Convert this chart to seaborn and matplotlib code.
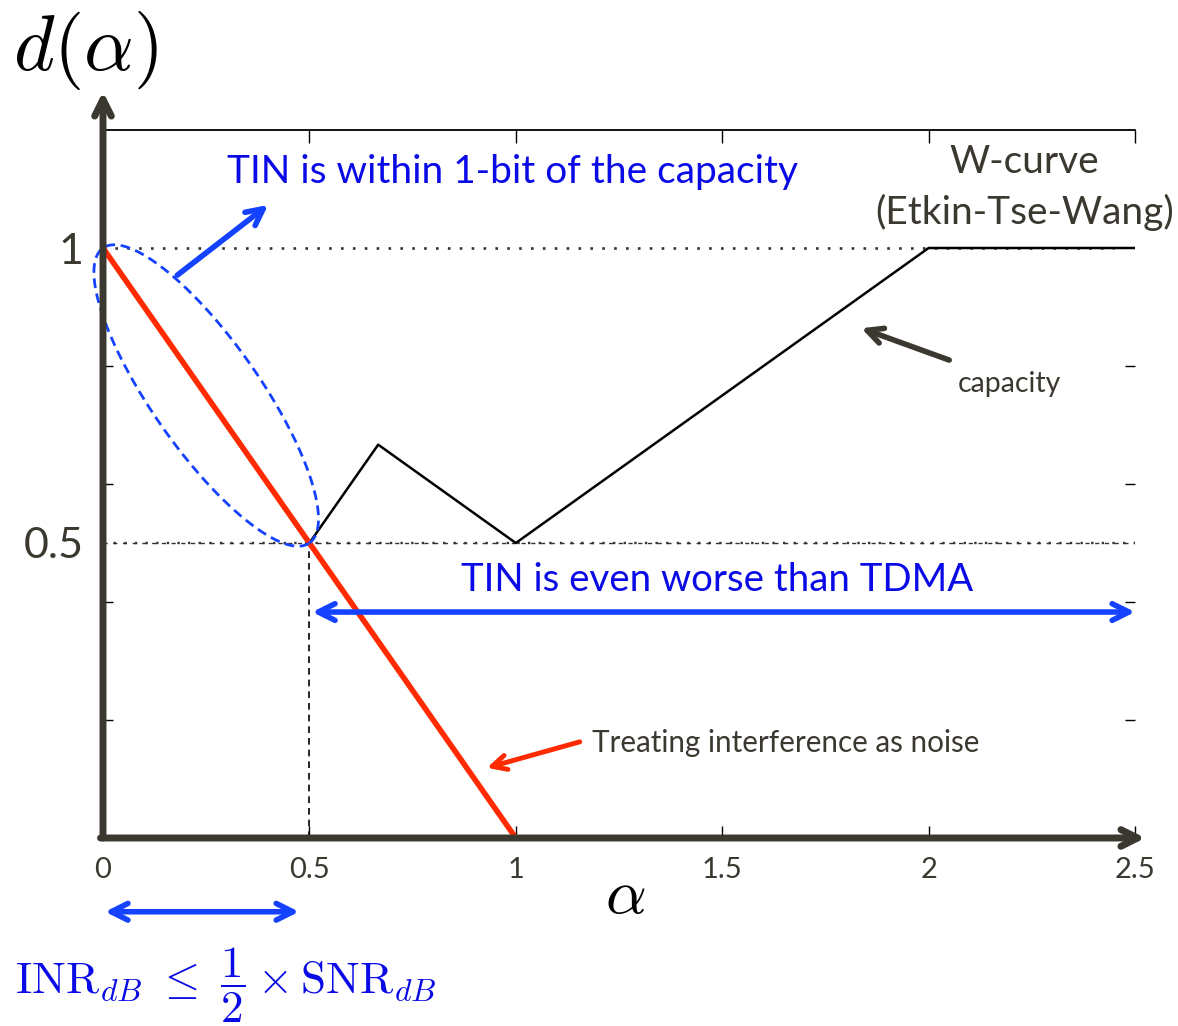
import numpy as np
import matplotlib
matplotlib.use('Agg')
import matplotlib.pyplot as plt
import seaborn as sns

# W-curve (Etkin-Tse-Wang) and treating-interference-as-noise curves
alpha_capacity = [0, 0.5, 2 / 3, 1, 2, 2.5]
d_capacity = [1, 0.5, 2 / 3, 0.5, 1, 1]
alpha_tin = [0, 1]
d_tin = [1, 0]

# reference levels and tick labels
ref_levels = [1, 0.5]
x_ticks = [0, 0.5, 1, 1.5, 2, 2.5]
x_tick_labels = ['0', '0.5', '1', '1.5', '2', '2.5']
y_major = [0.5, 1]
y_major_labels = ['0.5', '1']
y_minor = [0.2, 0.4, 0.6, 0.8]
tin_limit = 0.5

sns.set_style('white')
plt.rcParams['font.family'] = ['Lato', 'DejaVu Sans']
plt.rcParams['mathtext.fontset'] = 'cm'

DARK = '#3b3830'
BLUE = '#1442ff'
TEXT_BLUE = '#0a0ae6'
RED = '#ff2a00'

fig = plt.figure(figsize=(11.78, 10.26), dpi=100)
ax = fig.add_axes([103 / 1178, 1 - 838 / 1026, 1032 / 1178, 708 / 1026])
ax.set_xlim(0, 2.5)
ax.set_ylim(0, 1.2)

# dotted reference lines
ax.plot([0, 2.45], [ref_levels[0]] * 2, ls=(0, (1, 3.5)), color='#333333', lw=1.9)
ax.plot([0, 2.5], [ref_levels[1]] * 2, ls=(0, (1, 3.5)), color='#333333', lw=1.7)
ax.plot([0, 2.5], [ref_levels[1]] * 2, ls=(0, (3, 4)), color='#333333', lw=1.0)
ax.plot([tin_limit, tin_limit], [0, 0.5], ls=(0, (4, 3)), color='black', lw=1.2)

sns.lineplot(x=alpha_capacity, y=d_capacity, color='black', lw=1.8, ax=ax)
sns.lineplot(x=alpha_tin, y=d_tin, color=RED, lw=4, ax=ax)

# dashed ellipse around the TIN-optimal segment (drawn in pixel space)
sx = 1032 / 2.5
sy = 708 / 1.2
p0 = np.array([alpha_tin[0] * sx, d_tin[0] * sy])
p1 = np.array([tin_limit * sx, 0.5 * sy])
v = p1 - p0
a = np.linalg.norm(v) / 2
b = 0.3 * a
u = v / np.linalg.norm(v)
n = np.array([-u[1], u[0]])
c = (p0 + p1) / 2
t = np.linspace(0, 2 * np.pi, 300)
pts = c[None, :] + a * np.cos(t)[:, None] * u + b * np.sin(t)[:, None] * n
ax.plot(pts[:, 0] / sx, pts[:, 1] / sy, color=BLUE, lw=2, ls=(0, (3.5, 2)),
        clip_on=False)

# coordinate axes as arrows
ax.annotate('', xy=(0, 1.265), xytext=(0, 0), annotation_clip=False,
            arrowprops=dict(arrowstyle='->', lw=5, color=DARK, mutation_scale=30,
                            shrinkA=0, shrinkB=0))
ax.annotate('', xy=(2.525, 0), xytext=(-0.006, 0), annotation_clip=False,
            arrowprops=dict(arrowstyle='->', lw=5, color=DARK, mutation_scale=30,
                            shrinkA=0, shrinkB=0))

for s in ['left', 'bottom', 'right']:
    ax.spines[s].set_visible(False)
ax.spines['top'].set_linewidth(1.3)
ax.spines['top'].set_color('black')

ax.set_xticks(x_ticks)
ax.set_xticklabels(x_tick_labels)
ax.set_yticks(y_major)
ax.set_yticklabels(y_major_labels)
ax.set_yticks(y_minor, minor=True)
ax.tick_params(axis='x', which='major', direction='in', length=9, width=1,
               top=True, bottom=True, labelsize=21, labelcolor=DARK, pad=14,
               color='black')
ax.tick_params(axis='y', which='major', length=0, labelsize=31,
               labelcolor=DARK, pad=14)
ax.tick_params(axis='y', which='minor', direction='in', length=7, width=1,
               left=True, right=True, color='black')

# annotations
ax.text(0.3, 1.129, 'TIN is within 1-bit of the capacity', color=TEXT_BLUE,
        fontsize=28, va='center', ha='left')
ax.annotate('', xy=(0.40, 1.073), xytext=(0.18, 0.954),
            arrowprops=dict(arrowstyle='->', lw=4, color=BLUE, mutation_scale=30,
                            shrinkA=0, shrinkB=0))

ax.text(1.487, 0.437, 'TIN is even worse than TDMA', color=TEXT_BLUE,
        fontsize=27.6, va='center', ha='center')
ax.annotate('', xy=(2.5, 0.383), xytext=(0.5, 0.383), annotation_clip=False,
            arrowprops=dict(arrowstyle='<->', lw=4, color=BLUE, mutation_scale=30,
                            shrinkA=2, shrinkB=0))

ax.text(2.232, 1.146, 'W-curve', color=DARK, fontsize=28, va='center', ha='center')
ax.text(2.232, 1.061, '(Etkin-Tse-Wang)', color=DARK, fontsize=28, va='center',
        ha='center')

ax.annotate('', xy=(1.837, 0.864), xytext=(2.05, 0.81),
            arrowprops=dict(arrowstyle='->', lw=4, color=DARK, mutation_scale=28,
                            shrinkA=0, shrinkB=0))
ax.text(2.196, 0.769, 'capacity', color=DARK, fontsize=20.5, va='center',
        ha='center')

ax.annotate('', xy=(0.93, 0.119), xytext=(1.155, 0.163),
            arrowprops=dict(arrowstyle='->', lw=3.5, color=RED, mutation_scale=26,
                            shrinkA=0, shrinkB=0))
ax.text(1.184, 0.161, 'Treating interference as noise', color=DARK, fontsize=21.3,
        va='center', ha='left')

ax.annotate('', xy=(0.475, -0.125), xytext=(0.005, -0.125), annotation_clip=False,
            arrowprops=dict(arrowstyle='<->', lw=4, color=BLUE, mutation_scale=30,
                            shrinkA=0, shrinkB=0))

fig.text(85 / 1178, 1 - 50 / 1026, r'$d(\alpha)$', fontsize=56, color='black',
         ha='center', va='center')
fig.text(625 / 1178, 1 - 895 / 1026, r'$\alpha$', fontsize=46, color='black',
         ha='center', va='center')
fig.text(226 / 1178, 1 - 985 / 1026,
         r'$\mathrm{INR}_{dB} \ \leq\ \dfrac{1}{2} \times \mathrm{SNR}_{dB}$',
         fontsize=32.5, color=TEXT_BLUE, ha='center', va='center')

fig.savefig('out.png', dpi=100)
